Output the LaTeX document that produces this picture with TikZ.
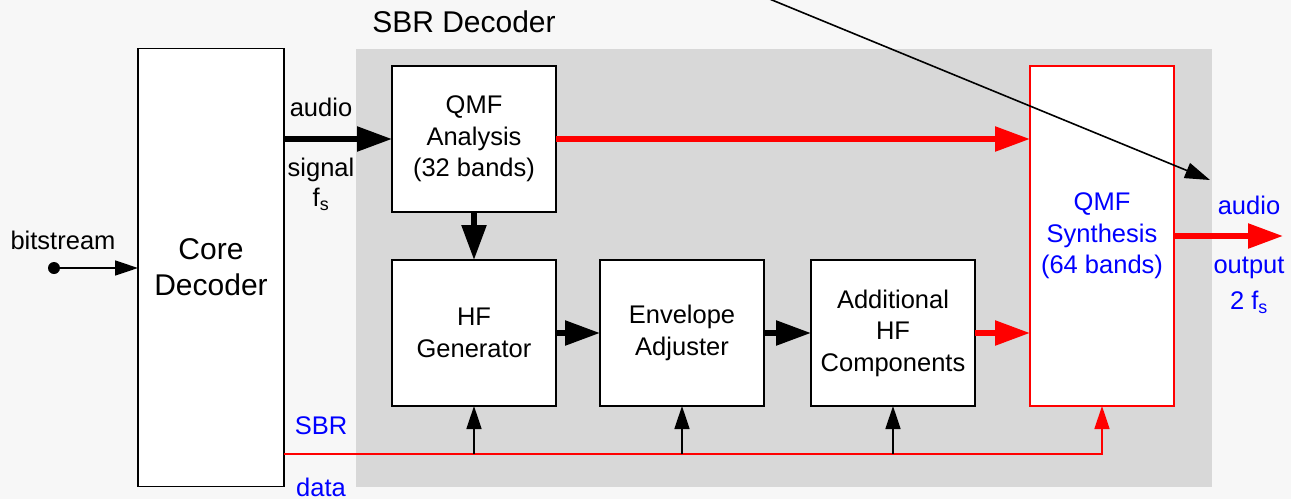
\documentclass[tikz,border=0pt]{standalone}
\usepackage{fontspec}
\setmainfont{Liberation Sans}
\usetikzlibrary{arrows.meta,calc}
\definecolor{pagebg}{RGB}{247,247,247}
\definecolor{sbrgray}{RGB}{216,216,216}
\definecolor{myred}{RGB}{255,0,0}
\definecolor{myblue}{RGB}{0,0,255}
\begin{document}
\begin{tikzpicture}[x=1pt,y=-1pt,
  blk/.style={draw=black,line width=1.6pt,fill=white,inner sep=0pt,outer sep=0pt,align=center,
    font=\fontsize{25.5}{31.5}\selectfont},
  lbl/.style={inner sep=0pt,align=center,font=\fontsize{25.5}{31.5}\selectfont},
  bigarrow/.style={line width=5.5pt,-{Triangle[length=35pt,width=24pt]}},
  thinarrow/.style={line width=1.6pt,-{Triangle[length=23pt,width=15pt]}}]
\useasboundingbox (0,0) rectangle (1291,499);
\fill[pagebg] (0,0) rectangle (1291,499);
\fill[sbrgray] (356,49) rectangle (1212,487);
\node[lbl,font=\fontsize{30}{36}\selectfont] (title) at (464,22) {SBR Decoder};
% blocks
\node[blk,minimum width=146pt,minimum height=438pt,font=\fontsize{30}{36}\selectfont] (core) at (211,267.5) {Core\\Decoder};
\node[blk,minimum width=164pt,minimum height=146pt] (qa) at (474,139) {QMF\\Analysis\\(32 bands)};
\node[blk,minimum width=164pt,minimum height=146pt] (hf) at (474,333) {HF\\Generator};
\node[blk,minimum width=164pt,minimum height=146pt] (env) at (682,333) {Envelope\\Adjuster};
\node[blk,minimum width=164pt,minimum height=146pt] (add) at (893,333) {Additional\\HF\\Components};
\node[blk,draw=myred,text=myblue,minimum width=144pt,minimum height=340pt] (syn) at (1102,236) {QMF\\Synthesis\\(64 bands)};
% bitstream
\coordinate (bs) at (54,268);
\fill (bs) circle (6pt);
\node[lbl] (bslbl) at (63,240) {bitstream};
\draw[thinarrow] (bs) -- (bs -| core.west);
% audio signal
\node[lbl] (aud) at (321,107) {audio};
\node[lbl] (sig) at (321,170) {signal};
\node[lbl] (fs) at (321,199) {f\textsubscript{s}};
\draw[bigarrow] (core.east |- qa.west) -- (qa.west);
% main paths
\draw[bigarrow,myred] (qa.east) -- (qa.east -| syn.west);
\draw[bigarrow] (qa.south) -- (hf.north);
\draw[bigarrow] (hf.east) -- (env.west);
\draw[bigarrow] (env.east) -- (add.west);
\draw[bigarrow,myred] (add.east) -- (add.east -| syn.west);
% output
\coordinate (out) at (1283,236);
\draw[bigarrow,myred] (syn.east) -- (out);
\node[lbl,text=myblue] (oaud) at (1249,205) {audio};
\node[lbl,text=myblue] (oout) at (1249,268) {output};
\node[lbl,text=myblue] (ofs) at (1249,302) {2 f\textsubscript{s}};
% SBR data
\coordinate (sbr) at (284,454);
\node[lbl,text=myblue] (sbrlbl) at (321,426) {SBR};
\node[lbl,text=myblue] (datalbl) at (321,487) {data};
\draw[thinarrow,myred] (sbr) -| (syn.south);
\draw[thinarrow] (hf.south |- sbr) -- (hf.south);
\draw[thinarrow] (env.south |- sbr) -- (env.south);
\draw[thinarrow] (add.south |- sbr) -- (add.south);
% diagonal pointer
\coordinate (dtop) at (772,0);
\coordinate (dend) at (1210,180);
\draw[line width=1.6pt,-{Triangle[length=25pt,width=16pt]}] ($(dtop)!-10pt!(dend)$) -- (dend);
\end{tikzpicture}
\end{document}
